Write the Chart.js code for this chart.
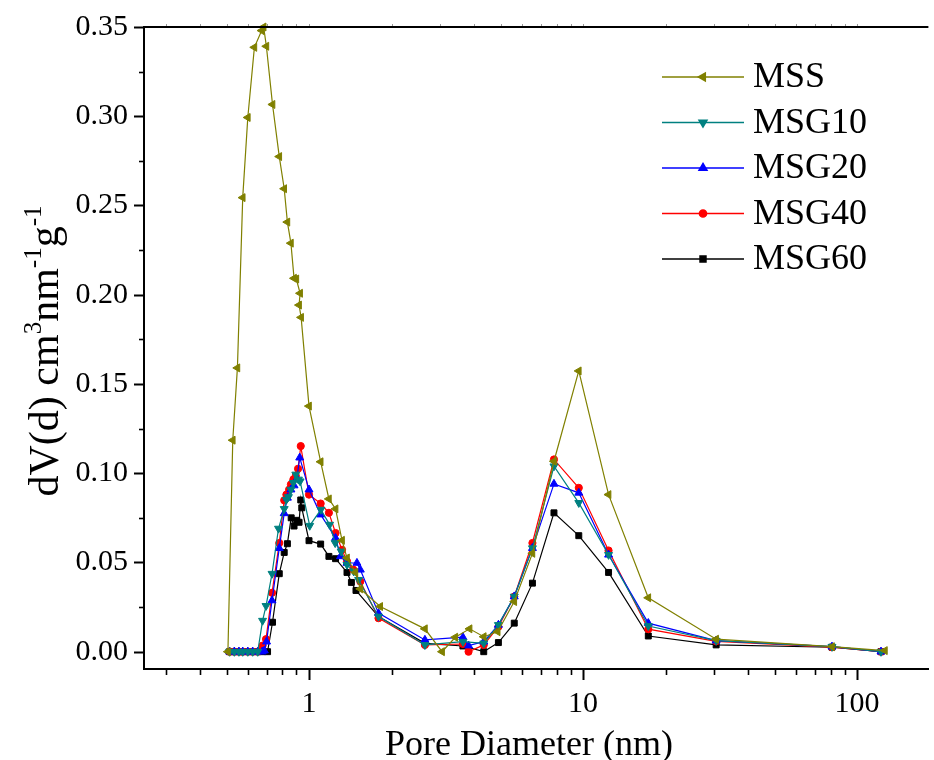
<!DOCTYPE html>
<html>
<head>
<meta charset="utf-8">
<script src="https://cdn.jsdelivr.net/npm/chart.js@4.4.0/dist/chart.umd.min.js"></script>
<style>
  html, body { margin: 0; padding: 0; background: #fff; overflow: hidden; }
  canvas { display: block; }
</style>
</head>
<body>
<canvas id="psdChart" width="934" height="760"></canvas>
<script>
// Pore size distribution: x = pore diameter (nm), y = dV(d)
const mssX = [0.506, 0.527, 0.548, 0.573, 0.598, 0.632, 0.672, 0.683, 0.699, 0.736, 0.779, 0.812, 0.834, 0.859, 0.882, 0.899, 0.928, 0.920, 0.936, 1.000, 1.103, 1.182, 1.250, 1.320, 1.376, 1.477, 1.539, 1.819, 2.648, 3.059, 3.418, 3.854, 4.341, 4.881, 5.610, 6.535, 7.831, 9.647, 12.39, 17.30, 30.59, 80.96, 126.3];
const mssY = [0.000, 0.1185, 0.159, 0.2544, 0.2993, 0.3386, 0.348, 0.350, 0.3392, 0.3066, 0.2774, 0.2594, 0.2407, 0.2289, 0.2092, 0.2088, 0.2008, 0.1942, 0.1873, 0.1376, 0.1064, 0.0856, 0.080, 0.0624, 0.0525, 0.0444, 0.0352, 0.0253, 0.0128, 0.000, 0.0081, 0.0128, 0.0084, 0.0112, 0.0281, 0.0551, 0.1067, 0.1573, 0.0880, 0.0302, 0.0070, 0.0028, 0.0006];

const msg10X = [0.513, 0.534, 0.555, 0.573, 0.598, 0.623, 0.650, 0.677, 0.697, 0.733, 0.774, 0.812, 0.827, 0.841, 0.859, 0.877, 0.895, 0.915, 0.928, 1.006, 1.105, 1.189, 1.246, 1.310, 1.376, 1.456, 1.517, 1.793, 2.648, 3.644, 4.341, 4.910, 5.610, 6.535, 7.831, 9.647, 12.39, 17.30, 30.59, 80.96, 122.2];
const msg10Y = [0, 0, 0, 0, 0, 0, 0, 0.0174, 0.0257, 0.0437, 0.0690, 0.0800, 0.0852, 0.0867, 0.0908, 0.0946, 0.0993, 0.0965, 0.0955, 0.0706, 0.0796, 0.0712, 0.0609, 0.0562, 0.0487, 0.0450, 0.0403, 0.0197, 0.0038, 0.0056, 0.0047, 0.0150, 0.0309, 0.0580, 0.1039, 0.0834, 0.0543, 0.0144, 0.0062, 0.0028, 0.0];

const msg20X = [0.513, 0.534, 0.555, 0.573, 0.598, 0.623, 0.650, 0.675, 0.687, 0.700, 0.733, 0.779, 0.812, 0.834, 0.859, 0.882, 0.903, 0.925, 1.000, 1.103, 1.250, 1.303, 1.376, 1.496, 1.539, 1.793, 2.648, 3.644, 3.821, 4.341, 4.910, 5.610, 6.535, 7.831, 9.647, 12.39, 17.30, 30.59, 80.96, 122.2];
const msg20Y = [0, 0, 0, 0, 0, 0, 0, 0, 0.0006, 0.0056, 0.0287, 0.0580, 0.0775, 0.0862, 0.0908, 0.0931, 0.0970, 0.1087, 0.0908, 0.0768, 0.0637, 0.0534, 0.0497, 0.0497, 0.0459, 0.0216, 0.0066, 0.0081, 0.0034, 0.0056, 0.0150, 0.0309, 0.0580, 0.0940, 0.0890, 0.0543, 0.0160, 0.0062, 0.0028, 0.0];

const msg40X = [0.513, 0.534, 0.555, 0.573, 0.598, 0.623, 0.650, 0.677, 0.697, 0.733, 0.779, 0.812, 0.827, 0.846, 0.859, 0.877, 0.895, 0.912, 0.933, 1.000, 1.103, 1.182, 1.250, 1.320, 1.376, 1.450, 1.539, 1.793, 2.648, 3.644, 3.821, 4.341, 4.910, 5.610, 6.535, 7.831, 9.647, 12.39, 17.30, 30.59, 80.96, 122.2];
const msg40Y = [0, 0, 0, 0, 0, 0, 0, 0.0034, 0.0070, 0.0330, 0.0609, 0.0848, 0.0880, 0.0908, 0.0937, 0.0965, 0.0985, 0.1025, 0.1152, 0.0880, 0.0830, 0.0778, 0.0665, 0.0571, 0.0506, 0.0460, 0.0393, 0.0188, 0.0038, 0.0043, 0.0, 0.0038, 0.0140, 0.0309, 0.0609, 0.1077, 0.0918, 0.0567, 0.0126, 0.0058, 0.0025, 0.0];

const msg60X = [0.513, 0.534, 0.555, 0.573, 0.598, 0.623, 0.650, 0.677, 0.706, 0.736, 0.779, 0.812, 0.834, 0.861, 0.882, 0.903, 0.920, 0.933, 0.941, 1.000, 1.103, 1.182, 1.250, 1.376, 1.428, 1.484, 1.793, 2.648, 3.644, 4.341, 4.910, 5.610, 6.535, 7.831, 9.647, 12.39, 17.30, 30.59, 80.96, 122.2];
const msg60Y = [0, 0, 0, 0, 0, 0, 0, 0, 0, 0.0165, 0.0437, 0.0556, 0.0605, 0.0750, 0.0704, 0.0736, 0.0725, 0.0850, 0.0806, 0.0622, 0.0603, 0.0534, 0.0521, 0.0444, 0.0388, 0.0343, 0.0197, 0.0047, 0.0032, 0.0, 0.0051, 0.0160, 0.0384, 0.0778, 0.0650, 0.0444, 0.0088, 0.0038, 0.0025, 0.0];

// Axis ticks
const xMajorTicks = [1, 10, 100];
const xMinorTicks = [0.3, 0.4, 0.5, 0.6, 0.7, 0.8, 0.9, 2, 3, 4, 5, 6, 7, 8, 9, 20, 30, 40, 50, 60, 70, 80, 90];
const yMajorTicks = [0, 0.05, 0.10, 0.15, 0.20, 0.25, 0.30, 0.35];
const yMinorTicks = [0.025, 0.075, 0.125, 0.175, 0.225, 0.275, 0.325];

const FONT = "'Liberation Serif', 'Times New Roman', serif";

function toPoints(xs, ys) {
    return xs.map((x, i) => ({ x: x, y: ys[i] }));
}

function series(label, xs, ys, color, style, rotation, radius) {
    return {
        label: label,
        data: toPoints(xs, ys),
        borderColor: color,
        backgroundColor: color,
        pointBackgroundColor: color,
        pointBorderColor: color,
        borderWidth: 1.2,
        pointBorderWidth: 1,
        pointStyle: style,
        pointRotation: rotation,
        pointRadius: radius,
        tension: 0,
        clip: false
    };
}

// dataset 0 is painted last (on top), same as the original
const datasets = [
    series('MSS', mssX, mssY, '#808000', 'triangle', 270, 4.6),
    series('MSG10', msg10X, msg10Y, '#008080', 'triangle', 180, 4.6),
    series('MSG20', msg20X, msg20Y, '#0000ff', 'triangle', 0, 4.6),
    series('MSG40', msg40X, msg40Y, '#ff0000', 'circle', 0, 3.6),
    series('MSG60', msg60X, msg60Y, '#000000', 'rect', 0, 4.2)
];

// tick marks (major long, minor short) and the top frame line
const tickMarks = {
    id: 'tickMarks',
    afterDraw(chart) {
        const ctx = chart.ctx;
        const area = chart.chartArea;
        const xs = chart.scales.x, ys = chart.scales.y;
        ctx.save();
        ctx.strokeStyle = '#000';
        ctx.lineWidth = 2;
        ctx.beginPath();
        ctx.moveTo(area.left - 1, area.top);
        ctx.lineTo(area.right, area.top);
        ctx.stroke();

        const xTick = (v, len) => {
            const px = Math.round(xs.getPixelForValue(v)) + 0.5;
            ctx.beginPath();
            ctx.moveTo(px, area.bottom);
            ctx.lineTo(px, area.bottom + len);
            ctx.stroke();
        };
        const yTick = (v, len) => {
            const py = Math.round(ys.getPixelForValue(v)) + 0.5;
            ctx.beginPath();
            ctx.moveTo(area.left, py);
            ctx.lineTo(area.left - len, py);
            ctx.stroke();
        };
        ctx.lineWidth = 2;
        xMajorTicks.forEach(v => xTick(v, 11));
        yMajorTicks.forEach(v => yTick(v, 10));
        ctx.lineWidth = 1.6;
        xMinorTicks.forEach(v => xTick(v, 6));
        yMinorTicks.forEach(v => yTick(v, 5));

        // faint ticks on the top frame
        ctx.strokeStyle = '#999';
        ctx.lineWidth = 1;
        xMinorTicks.concat(xMajorTicks).forEach(v => {
            const px = Math.round(xs.getPixelForValue(v)) + 0.5;
            ctx.beginPath();
            ctx.moveTo(px, area.top - 1);
            ctx.lineTo(px, area.top - 3);
            ctx.stroke();
        });
        ctx.restore();
    }
};

// legend inside the plot, top right
const insetLegend = {
    id: 'insetLegend',
    afterDraw(chart) {
        const ctx = chart.ctx;
        ctx.save();
        chart.data.datasets.forEach((ds, i) => {
            const y = 77 + i * 45.5;
            ctx.strokeStyle = ds.borderColor;
            ctx.lineWidth = 1.5;
            ctx.beginPath();
            ctx.moveTo(662, y);
            ctx.lineTo(744, y);
            ctx.stroke();
            ctx.fillStyle = ds.pointBackgroundColor;
            Chart.helpers.drawPoint(ctx, {
                pointStyle: ds.pointStyle,
                radius: ds.pointRadius,
                rotation: ds.pointRotation,
                borderWidth: 1
            }, 703, y);
            ctx.fillStyle = '#000';
            ctx.font = '36px ' + FONT;
            ctx.textBaseline = 'middle';
            ctx.textAlign = 'left';
            ctx.fillText(ds.label, 753, y + 1);
        });
        ctx.restore();
    }
};

// axis titles (the y title has superscripts)
const axisTitles = {
    id: 'axisTitles',
    afterDraw(chart) {
        const ctx = chart.ctx;
        ctx.save();
        ctx.fillStyle = '#000';
        ctx.textBaseline = 'alphabetic';
        ctx.textAlign = 'center';
        ctx.font = '36px ' + FONT;
        ctx.fillText('Pore Diameter (nm)', 529, 755);

        const parts = [['dV(d) cm', false], ['3', true], ['nm', false], ['-1', true], ['g', false], ['-1', true]];
        const bigFont = '42px ' + FONT, smallFont = '25px ' + FONT;
        let total = 0;
        parts.forEach(p => {
            ctx.font = p[1] ? smallFont : bigFont;
            total += ctx.measureText(p[0]).width;
        });
        ctx.translate(58, 351);
        ctx.rotate(-Math.PI / 2);
        ctx.textAlign = 'left';
        let x = -total / 2;
        parts.forEach(p => {
            ctx.font = p[1] ? smallFont : bigFont;
            ctx.fillText(p[0], x, p[1] ? -17 : 0);
            x += ctx.measureText(p[0]).width;
        });
        ctx.restore();
    }
};

const tickFont = { family: FONT, size: 30 };

new Chart(document.getElementById('psdChart').getContext('2d'), {
    type: 'line',
    data: { datasets: datasets },
    options: {
        responsive: false,
        animation: false,
        devicePixelRatio: 1,
        layout: { padding: { top: 27, left: 0, right: 0, bottom: 0 } },
        plugins: { legend: { display: false }, tooltip: { enabled: false } },
        scales: {
            x: {
                type: 'logarithmic',
                min: 0.25,
                max: 182,
                grid: { display: false, drawTicks: false },
                border: { display: true, color: '#000', width: 2 },
                ticks: {
                    font: tickFont, color: '#000', padding: 17,
                    autoSkip: false, maxRotation: 0,
                    callback: v => String(v)
                },
                afterBuildTicks: s => { s.ticks = xMajorTicks.map(v => ({ value: v })); },
                afterFit: s => {
                    s.height = 91;
                    s.paddingLeft = 0;
                    s.paddingRight = 0;
                }
            },
            y: {
                type: 'linear',
                min: -0.0097,
                max: 0.35,
                grid: { display: false, drawTicks: false },
                border: { display: true, color: '#000', width: 2 },
                ticks: {
                    font: tickFont, color: '#000', padding: 16,
                    callback: v => v.toFixed(2)
                },
                afterBuildTicks: s => { s.ticks = yMajorTicks.map(v => ({ value: v })); },
                afterFit: s => {
                    s.width = 144;
                    s.paddingTop = 0;
                    s.paddingBottom = 0;
                }
            }
        }
    },
    plugins: [tickMarks, insetLegend, axisTitles]
});
</script>
</body>
</html>
